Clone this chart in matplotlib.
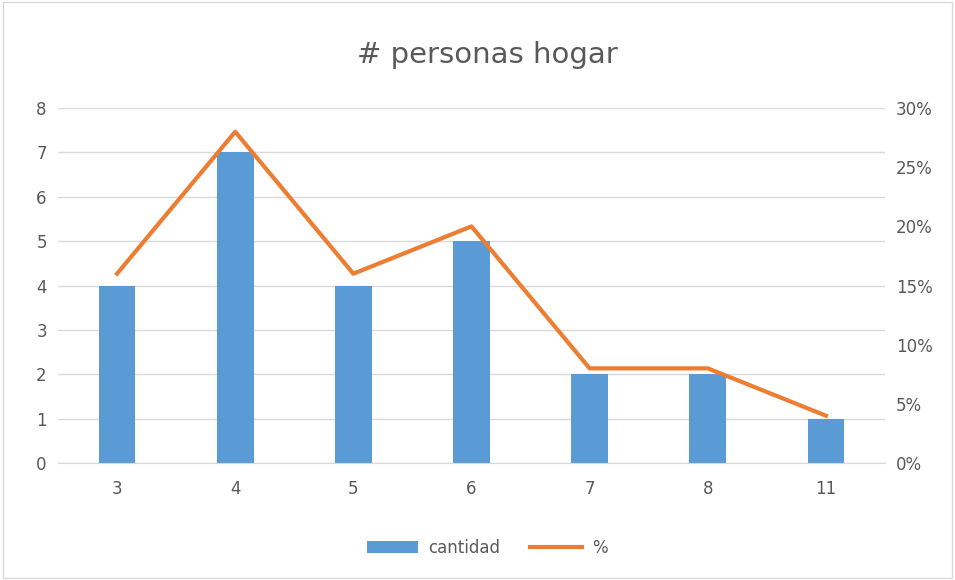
import numpy as np
import matplotlib.pyplot as plt
from matplotlib.ticker import PercentFormatter

categorias = ['3', '4', '5', '6', '7', '8', '11']
cantidad = [4, 7, 4, 5, 2, 2, 1]
porcentaje = [16, 28, 16, 20, 8, 8, 4]

GRIS = '#595959'

fig = plt.figure(figsize=(9.55, 5.8), dpi=100)
ax = fig.add_axes([0.0607, 0.2017, 0.866, 0.612])
x = np.arange(len(categorias))

ax.bar(x, cantidad, width=0.31, color='#5B9BD5', label='cantidad', zorder=2)
ax.set_ylim(0, 8)
ax.set_xlim(-0.5, len(categorias) - 0.5)
ax.set_yticks(range(0, 9))
ax.grid(axis='y', color='#D9D9D9', linewidth=1, zorder=0)
ax.set_xticks(x)
ax.set_xticklabels(categorias)

ax2 = ax.twinx()
ax2.plot(x, porcentaje, color='#ED7D31', linewidth=3, label='%', zorder=3)
ax2.set_ylim(0, 30)
ax2.set_yticks(range(0, 31, 5))
ax2.yaxis.set_major_formatter(PercentFormatter(decimals=0))

for a in (ax, ax2):
    for s in a.spines.values():
        s.set_visible(False)
    a.tick_params(length=0, labelsize=12, colors=GRIS, pad=8)
ax.spines['bottom'].set_visible(True)
ax.spines['bottom'].set_color('#D9D9D9')
ax.tick_params(axis='x', pad=12)

fig.suptitle('# personas hogar', x=0.51, y=0.93, fontsize=21, color=GRIS)

h1, l1 = ax.get_legend_handles_labels()
h2, l2 = ax2.get_legend_handles_labels()
fig.legend(h1 + h2, l1 + l2, loc='center', bbox_to_anchor=(0.51, 0.055), ncol=2,
           frameon=False, fontsize=12, labelcolor=GRIS, handlelength=3.1,
           handletextpad=0.6, columnspacing=1.8)

fig.patches.append(plt.Rectangle((0.003, 0.003), 0.994, 0.994, transform=fig.transFigure,
                                 fill=False, edgecolor='#D9D9D9', linewidth=1))

fig.savefig('out.png', dpi=100)
